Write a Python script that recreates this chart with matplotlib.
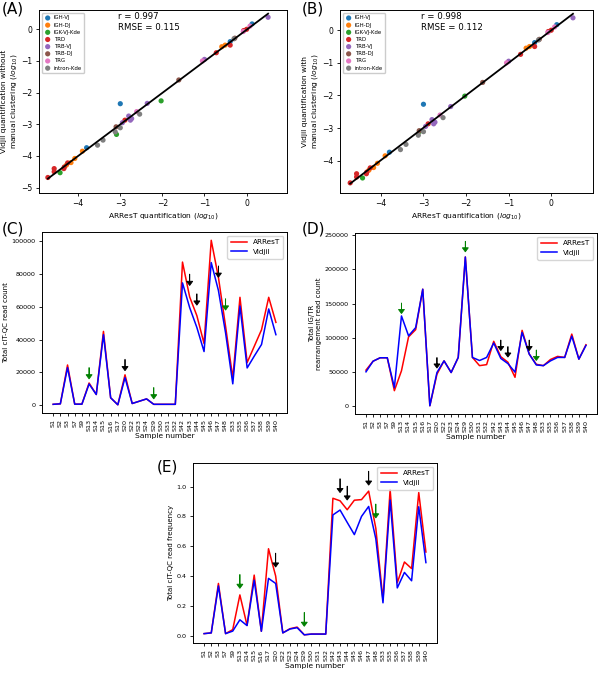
import numpy as np
import matplotlib.pyplot as plt

# scatter panels (A, B): log10 quantification per gene
genes = ['IGH-VJ', 'IGH-DJ', 'IGK-VJ-Kde', 'TRD', 'TRB-VJ', 'TRB-DJ', 'TRG', 'intron-Kde']
arrest_q = [
    [-3.0, -3.8, -0.39, 0.13],
    [-0.59, -0.51, -3.9, -4.08, -4.17, -4.28],
    [-2.03, -3.09, -4.43],
    [0.0, -0.07, -0.39, -0.72, -2.89, -4.25, -4.33, -4.34, -4.57, -4.57, -4.72],
    [0.51, -1.0, -2.36, -2.73, -2.76, -2.8, -2.95],
    [-0.28, -1.61, -3.1],
    [-0.08, 0.08, -1.05, -2.61],
    [-2.54, -3.0, -3.12, -3.41, -3.54, -0.3],
]
vidjil_no_clust = [
    [-2.35, -3.74, -0.39, 0.17],
    [-0.55, -0.5, -3.85, -4.08, -4.21, -4.29],
    [-2.26, -3.32, -4.53],
    [0.0, -0.04, -0.5, -0.74, -2.87, -4.22, -4.35, -4.4, -4.4, -4.5, -4.68],
    [0.38, -0.95, -2.34, -2.82, -2.87, -2.74, -2.95],
    [-0.28, -1.6, -3.08],
    [-0.07, 0.1, -1.0, -2.6],
    [-2.68, -3.11, -3.24, -3.5, -3.66, -0.3],
]
vidjil_clust = [
    [-2.27, -3.74, -0.38, 0.17],
    [-0.55, -0.5, -3.85, -4.08, -4.21, -4.29],
    [-2.02, -3.1, -4.53],
    [0.0, -0.04, -0.5, -0.74, -2.87, -4.22, -4.35, -4.4, -4.4, -4.5, -4.68],
    [0.38, -0.95, -2.34, -2.82, -2.87, -2.74, -2.95],
    [-0.28, -1.6, -3.08],
    [-0.07, 0.1, -1.0, -2.6],
    [-2.68, -3.11, -3.22, -3.5, -3.66, -0.3],
]
stats_a = ('0.997', '0.115')
stats_b = ('0.998', '0.112')

# line panels (C, D, E)
samples = ['S1', 'S2', 'S3', 'S7', 'S9', 'S13', 'S14', 'S15', 'S16', 'S17', 'S20', 'S22',
           'S23', 'S24', 'S29', 'S30', 'S31', 'S32', 'S42', 'S43', 'S44', 'S45', 'S46',
           'S47', 'S48', 'S33', 'S35', 'S36', 'S37', 'S38', 'S39', 'S40']

count_arrest = [500, 800, 24500, 600, 600, 13500, 6500, 45000, 4500, 200, 18500, 1000,
                2400, 3800, 500, 500, 500, 500, 87300, 66000, 54600, 37600, 100600,
                78000, 48000, 16500, 65800, 26000, 36000, 46000, 65800, 50500]
count_vidjil = [500, 800, 22900, 600, 600, 12900, 6500, 43000, 4500, 200, 16800, 1000,
                2400, 3800, 500, 500, 500, 500, 74600, 59500, 47400, 32700, 87000,
                70000, 44000, 13000, 60500, 22700, 30000, 37000, 58700, 43000]

rearr_arrest = [53000, 66000, 71000, 71000, 23000, 52000, 101500, 112000, 171000, 1000,
                47000, 66500, 49500, 71500, 218000, 71500, 59500, 61000, 95000, 72500,
                64500, 42500, 111000, 76500, 61500, 59500, 68500, 73000, 71500, 105500,
                69000, 90000]
rearr_vidjil = [50500, 66000, 71000, 71000, 27500, 132000, 103000, 115000, 171000, 1000,
                49500, 66500, 49500, 71500, 218000, 71500, 67000, 71500, 92500, 70000,
                62500, 50000, 108000, 76500, 60500, 59500, 66500, 71500, 71500, 102500,
                69000, 89000]

freq_arrest = [0.013, 0.018, 0.35, 0.013, 0.04, 0.273, 0.069, 0.406, 0.029, 0.583, 0.40,
               0.018, 0.046, 0.057, 0.005, 0.01, 0.01, 0.01, 0.922, 0.905, 0.845, 0.909,
               0.913, 0.97, 0.72, 0.24, 0.98, 0.355, 0.494, 0.45, 0.96, 0.561]
freq_vidjil = [0.013, 0.018, 0.333, 0.013, 0.03, 0.106, 0.067, 0.372, 0.029, 0.384, 0.35,
               0.018, 0.044, 0.053, 0.005, 0.01, 0.01, 0.01, 0.81, 0.843, 0.76, 0.678,
               0.80, 0.867, 0.65, 0.22, 0.91, 0.32, 0.424, 0.368, 0.865, 0.49]

# flagged samples (arrow tip values)
flag_black = ['S20', 'S43', 'S44', 'S47']
flag_green = ['S13', 'S29', 'S48']
tips_c_black = [21000, 73000, 61000, 78000]
tips_c_green = [16000, 3800, 58000]
tips_d_black = [56000, 81500, 72000, 81500]
tips_d_green = [135500, 225500, 67000]
tips_e_black = [0.46, 0.96, 0.91, 1.01]
tips_e_green = [0.317, 0.062, 0.79]

plt.rcParams['font.family'] = 'DejaVu Sans'
plt.rcParams['axes.linewidth'] = 0.7
plt.rcParams['xtick.major.width'] = 0.6
plt.rcParams['ytick.major.width'] = 0.6
plt.rcParams['xtick.major.size'] = 2.5
plt.rcParams['ytick.major.size'] = 2.5
plt.rcParams['xtick.major.pad'] = 2
plt.rcParams['ytick.major.pad'] = 2

fig = plt.figure(figsize=(6.03, 6.75), dpi=100)
ax_a = fig.add_axes([0.0647, 0.7141, 0.4113, 0.2711])
ax_b = fig.add_axes([0.5638, 0.7141, 0.4196, 0.2711])
ax_c = fig.add_axes([0.0697, 0.3881, 0.4063, 0.2681])
ax_d = fig.add_axes([0.5887, 0.3867, 0.4013, 0.2681])
ax_e = fig.add_axes([0.3201, 0.0474, 0.4046, 0.2667])

colors = plt.cm.tab10.colors


def scatter_panel(ax, yvals, ylabel, stats, xlim, ylim):
    for i, g in enumerate(genes):
        ax.scatter(arrest_q[i], yvals[i], s=14, color=colors[i], label=g, zorder=2,
                   edgecolors='none')
    xs = np.concatenate(arrest_q)
    ys = np.concatenate(yvals)
    k, b = np.polyfit(xs, ys, 1)
    xl = np.array([xs.min(), xs.max()])
    ax.plot(xl, k * xl + b, color='black', lw=1.3, zorder=3)
    ax.set_xlim(*xlim)
    ax.set_ylim(*ylim)
    ax.set_xticks([-4, -3, -2, -1, 0])
    ax.tick_params(labelsize=5.5)
    ax.set_xlabel('ARResT quantification ($log_{10}$)', fontsize=5.4, labelpad=2)
    ax.set_ylabel(ylabel, fontsize=5.4, labelpad=2)
    ax.text(0.32, 0.962, 'r = ' + stats[0], transform=ax.transAxes, fontsize=6.2, va='center')
    ax.text(0.32, 0.905, 'RMSE = ' + stats[1], transform=ax.transAxes, fontsize=6.2, va='center')
    ax.legend(loc='upper left', fontsize=3.9, handletextpad=0.5, borderpad=0.5,
              labelspacing=0.4, handlelength=1.2, framealpha=1, edgecolor='#cccccc')


def line_panel(ax, red, blue, ylabel, tips_black, tips_green, arrow_len, head_len):
    x = np.arange(len(samples))
    ax.plot(x, red, color='red', lw=1.1, label='ARResT')
    ax.plot(x, blue, color='blue', lw=1.1, label='Vidjil')
    for names, tips, col in [(flag_black, tips_black, 'black'), (flag_green, tips_green, 'green')]:
        for n, t in zip(names, tips):
            i = samples.index(n)
            ax.arrow(i, t + arrow_len, 0, -arrow_len, head_width=0.85, head_length=head_len,
                     length_includes_head=True, color=col, lw=0.6, zorder=4)
    ax.set_xticks(x)
    ax.set_xticklabels(samples, rotation=90)
    ax.tick_params(labelsize=4.6)
    ax.set_xlabel('Sample number', fontsize=5.4, labelpad=1)
    ax.set_ylabel(ylabel, fontsize=5, labelpad=2)
    ax.legend(loc='upper right', fontsize=5.2, handlelength=2.2, borderpad=0.5)


scatter_panel(ax_a, vidjil_no_clust,
              'Vidjil quantification without\nmanual clustering ($log_{10}$)',
              stats_a, (-4.93, 0.96), (-5.17, 0.61))
scatter_panel(ax_b, vidjil_clust,
              'Vidjil quantification with\nmanual clustering ($log_{10}$)',
              stats_b, (-4.96, 0.98), (-4.99, 0.62))

line_panel(ax_c, count_arrest, count_vidjil, 'Total cIT-QC read count',
           tips_c_black, tips_c_green, 7000, 2600)
line_panel(ax_d, rearr_arrest, rearr_vidjil, 'Total IG/TR\nrearrangement read count',
           tips_d_black, tips_d_green, 15500, 6000)
line_panel(ax_e, freq_arrest, freq_vidjil, 'Total cIT-QC read frequency',
           tips_e_black, tips_e_green, 0.094, 0.028)

fig.text(2 / 603, 1 - 2 / 675, '(A)', fontsize=11, va='top', ha='left')
fig.text(302 / 603, 1 - 2 / 675, '(B)', fontsize=11, va='top', ha='left')
fig.text(2 / 603, 1 - 221 / 675, '(C)', fontsize=11, va='top', ha='left')
fig.text(302 / 603, 1 - 221 / 675, '(D)', fontsize=11, va='top', ha='left')
fig.text(157 / 603, 1 - 459 / 675, '(E)', fontsize=11, va='top', ha='left')

fig.savefig('out.png', dpi=100)
